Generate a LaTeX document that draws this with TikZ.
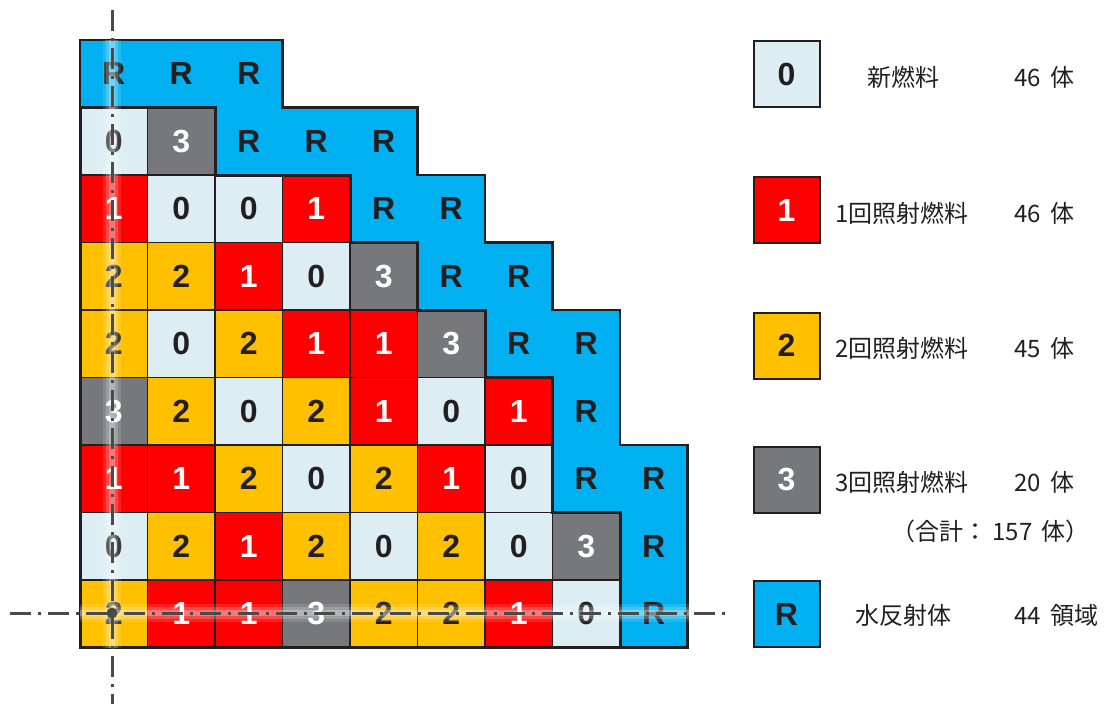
\documentclass[tikz,border=0pt]{standalone}
\usepackage{fontspec}
\setmainfont{Liberation Sans}
\newfontfamily\jp{Noto Sans CJK JP}
\definecolor{cfill0}{HTML}{DCEEF4}
\definecolor{cfill1}{HTML}{FF0000}
\definecolor{cfill2}{HTML}{FFC000}
\definecolor{cfill3}{HTML}{77787B}
\definecolor{cfillR}{HTML}{00B0F0}
\definecolor{ctext0}{HTML}{231F20}
\definecolor{ctext1}{HTML}{FFFFFF}
\definecolor{ctext2}{HTML}{231F20}
\definecolor{ctext3}{HTML}{FFFFFF}
\definecolor{ctextR}{HTML}{231F20}
\definecolor{edge}{HTML}{231F20}
\definecolor{axis}{HTML}{4A4A4A}
\tikzset{
  fcell/.style={fill=cfill#1, text=ctext#1, draw=edge, line width=1.3pt,
    minimum size=67.5pt, inner sep=0pt, font=\fontsize{32}{32}\selectfont\bfseries},
  rlabel/.style={text=ctextR, inner sep=0pt, font=\fontsize{32}{32}\selectfont\bfseries},
  legbox/.style={fill=cfill#1, text=ctext#1, draw=edge, line width=2pt,
    minimum size=66pt, inner sep=0pt, font=\fontsize{32}{32}\selectfont\bfseries},
  legtext/.style={inner sep=0pt, text=edge, font=\jp\fontsize{24}{24}\selectfont},
  axisline/.style={draw=axis, line width=3pt, dash pattern=on 21pt off 7pt on 3pt off 7pt},
  glow/.style={draw=white, line cap=butt}
}
\begin{document}
\begin{tikzpicture}[x=1pt,y=-1pt]
\useasboundingbox (0,0) rectangle (1108,704);
\begin{scope}[shift={(80,40)}, x=67.5pt, y=-67.5pt]
  % reflector region
  \fill[cfillR] (0,0) -- (3,0) -- (3,1) -- (5,1) -- (5,2) -- (6,2) -- (6,3) -- (7,3) -- (7,4)
     -- (8,4) -- (8,6) -- (9,6) -- (9,9) -- (0,9) -- cycle;
  \foreach \r/\c in {0/0,0/1,0/2,1/2,1/3,1/4,2/4,2/5,3/5,3/6,4/6,4/7,5/7,6/7,6/8,7/8,8/8}
    \node[rlabel] (r\r-\c) at (\c+0.5,\r+0.5) {R};
  % fuel cells
  \foreach \r/\lst in {1/{0,3},2/{1,0,0,1},3/{2,2,1,0,3},4/{2,0,2,1,1,3},
      5/{3,2,0,2,1,0,1},6/{1,1,2,0,2,1,0},7/{0,2,1,2,0,2,0,3},8/{2,1,1,3,2,2,1,0}}{
    \foreach \v [count=\c from 0] in \lst
      \node[fcell=\v] (c\r-\c) at (\c+0.5,\r+0.5) {\v};
  }
  % core outline
  \draw[edge, line width=3pt, line join=miter] (0,1) -- (2,1) -- (2,2) -- (4,2) -- (4,3) -- (5,3) -- (5,4)
     -- (6,4) -- (6,5) -- (7,5) -- (7,7) -- (8,7) -- (8,9) -- (0,9) -- cycle;
  % outer outline
  \draw[edge, line width=2.5pt, line join=miter] (0,0) -- (3,0) -- (3,1) -- (5,1) -- (5,2) -- (6,2) -- (6,3) -- (7,3) -- (7,4)
     -- (8,4) -- (8,6) -- (9,6) -- (9,9) -- (0,9) -- cycle;
\end{scope}
% symmetry axes
\coordinate (vtop) at (112,10);
\coordinate (vbot) at (112,704);
\coordinate (hl) at (10,613);
\coordinate (hr) at (728,613);
\coordinate (ctr) at (112,613);
\foreach \w/\o in {18/0.12,12/0.18,6/0.25}{
  \draw[glow, line width=\w pt, opacity=\o] (112,40) -- (112,648);
  \draw[glow, line width=\w pt, opacity=\o] (80,613) -- (735,613);
}
\draw[axisline] (vtop) -- (vbot);
\draw[axisline] (hl) -- (hr);
\fill[axis] (ctr) circle (5.5);
% legend
\node[legbox=0] (l0) at (786.5,74) {0};
\node[legbox=1] (l1) at (786.5,210) {1};
\node[legbox=2] (l2) at (786.5,345.5) {2};
\node[legbox=3] (l3) at (786.5,479.5) {3};
\node[legbox=R] (lR) at (786.5,614) {R};
\node[legtext] (t0) at (903,77) {新燃料};
\node[legtext, anchor=west] (t1) at (835,213) {1回照射燃料};
\node[legtext, anchor=west] (t2) at (835,348) {2回照射燃料};
\node[legtext, anchor=west] (t3) at (835,482) {3回照射燃料};
\node[legtext] (tR) at (903,615) {水反射体};
\node[legtext, anchor=west] (n0) at (1014,77) {46\hspace{4pt} 体};
\node[legtext, anchor=west] (n1) at (1014,213) {46\hspace{4pt} 体};
\node[legtext, anchor=west] (n2) at (1014,348) {45\hspace{4pt} 体};
\node[legtext, anchor=west] (n3) at (1014,482) {20\hspace{4pt} 体};
\node[legtext, anchor=east] (tot) at (1090,531) {（合計： 157\hspace{4pt} 体）};
\node[legtext, anchor=west] (nR) at (1014,615) {44\hspace{4pt} 領域};
\end{tikzpicture}
\end{document}
